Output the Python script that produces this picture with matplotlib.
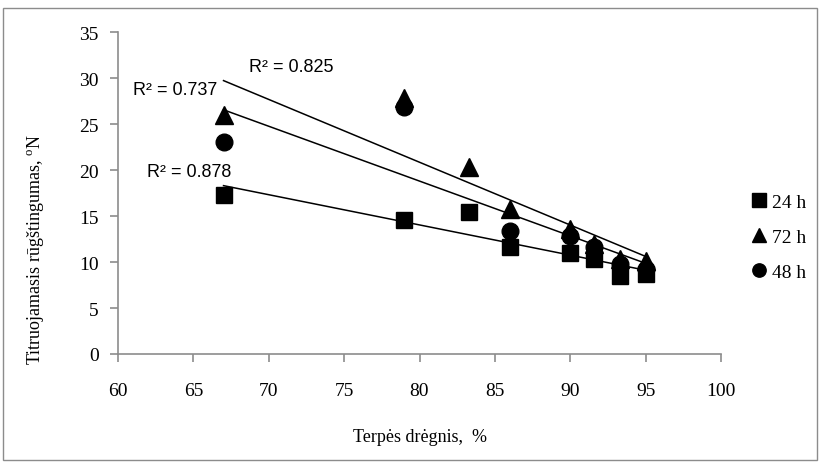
import numpy as np
import matplotlib
matplotlib.use("Agg")
import matplotlib.pyplot as plt
from matplotlib.patches import Rectangle

# Terpės drėgnis (%) and titruojamasis rūgštingumas (°N) per fermentation time
x_24h = [67, 79, 83.3, 86, 90, 91.6, 93.3, 95]
y_24h = [17.3, 14.6, 15.4, 11.6, 11.0, 10.3, 8.5, 8.7]

x_72h = [67, 79, 83.3, 86, 90, 91.6, 93.3, 95]
y_72h = [26.0, 27.8, 20.3, 15.8, 13.6, 12.0, 10.3, 10.1]

x_48h = [67, 79, 86, 90, 91.6, 93.3, 95]
y_48h = [23.0, 26.8, 13.4, 12.8, 11.6, 9.8, 9.2]

r2_labels = {"24 h": "R² = 0.878", "72 h": "R² = 0.825", "48 h": "R² = 0.737"}
r2_pos = {"24 h": (61.9, 19.8), "72 h": (68.7, 31.3), "48 h": (61.0, 28.8)}

x_ticks = [60, 65, 70, 75, 80, 85, 90, 95, 100]
y_ticks = [0, 5, 10, 15, 20, 25, 30, 35]

plt.rcParams["font.family"] = ["Liberation Serif", "DejaVu Serif"]
plt.rcParams["mathtext.fontset"] = "custom"
plt.rcParams["mathtext.rm"] = "Liberation Serif"

W, H = 819, 464
fig = plt.figure(figsize=(W / 100, H / 100), dpi=100)
fig.patches.append(Rectangle((3 / W, 3 / H), 814 / W, 452 / H, transform=fig.transFigure,
                             fill=False, edgecolor="#8c8c8c", linewidth=1.0))

ax = fig.add_axes([118 / W, (H - 355) / H, 603 / W, 322 / H])

series = [
    ("24 h", x_24h, y_24h, "s", 12),
    ("72 h", x_72h, y_72h, "^", 13),
    ("48 h", x_48h, y_48h, "o", 12),
]

for name, xs, ys, mk, ms in series:
    xs = np.asarray(xs)
    ys = np.asarray(ys)
    ax.plot(xs, ys, linestyle="none", marker=mk, markersize=ms, color="black", label=name)
    # linear trendline over the data range
    k, b = np.polyfit(xs, ys, 1)
    xl = np.array([xs.min(), xs.max()])
    ax.plot(xl, k * xl + b, color="black", linewidth=1.1)
    tx, ty = r2_pos[name]
    ax.text(tx, ty, r2_labels[name], fontsize=13, family=["Liberation Sans", "DejaVu Sans"],
            va="center", ha="left")

ax.set_xlim(60, 100)
ax.set_ylim(0, 35)
ax.set_xticks(x_ticks)
ax.set_yticks(y_ticks)

for side in ["top", "right"]:
    ax.spines[side].set_visible(False)
for side in ["left", "bottom"]:
    ax.spines[side].set_color("#8c8c8c")
    ax.spines[side].set_linewidth(1.2)

ax.tick_params(axis="both", direction="out", length=6, width=1.2, color="#8c8c8c",
               labelsize=14)
ax.tick_params(axis="x", pad=14)
ax.tick_params(axis="y", pad=8)

fig.text(420 / W, 1 - 438 / H, "Terpės drėgnis,  %", ha="center", va="center", fontsize=13)
fig.text(36 / W, 1 - 250 / H, "Titruojamasis rūgštingumas, $^{\\mathrm{o}}$N",
         ha="center", va="center", rotation=90, fontsize=13)

ax.legend(loc="center left", bbox_to_anchor=(742 / W, 1 - 238 / H),
          bbox_transform=fig.transFigure, frameon=False, fontsize=14, markerscale=0.8,
          handlelength=0.7, handletextpad=0.35, labelspacing=0.9, borderpad=0)

fig.savefig("out.png", dpi=100)
